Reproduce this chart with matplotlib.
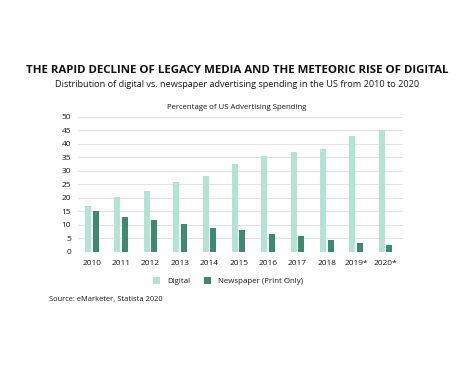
import numpy as np
import matplotlib.pyplot as plt

plt.rcParams['font.family'] = ['Open Sans', 'DejaVu Sans']

years = ['2010', '2011', '2012', '2013', '2014', '2015', '2016',
         '2017', '2018', '2019*', '2020*']
digital = [16.9, 20.4, 22.6, 25.7, 28.1, 32.5, 35.6, 36.9, 38.1, 43.0, 45.1]
newspaper = [15.1, 13.0, 11.7, 10.4, 8.9, 8.0, 6.8, 5.8, 4.3, 3.3, 2.5]

digital_color = '#b3e3d2'
newspaper_color = '#3f8a6f'

fig = plt.figure(figsize=(4.74, 3.66), dpi=100)
ax = fig.add_axes([0.1646, 0.3115, 0.6854, 0.3695])

x = np.arange(len(years))
w = 0.205
ax.bar(x - 0.128, digital, w, color=digital_color, label='Digital', zorder=3)
ax.bar(x + 0.128, newspaper, w, color=newspaper_color,
       label='Newspaper (Print Only)', zorder=3)

ax.set_xlim(-0.47, 10.59)
ax.set_ylim(0, 50)
ax.set_yticks(np.arange(0, 51, 5))
ax.set_xticks(x)
ax.set_xticklabels(years)
ax.grid(axis='y', color='#e3e3e3', linewidth=0.8, zorder=0)
for s in ax.spines.values():
    s.set_visible(False)
ax.tick_params(length=0, labelsize=6.0, colors='#1a1a1a')
ax.tick_params(axis='x', pad=6)
ax.tick_params(axis='y', pad=5)

fig.text(0.5, 0.808, 'THE RAPID DECLINE OF LEGACY MEDIA AND THE METEORIC RISE OF DIGITAL',
         ha='center', va='center', fontsize=8.25, fontweight='bold', color='#111111')
fig.text(0.5, 0.770, 'Distribution of digital vs. newspaper advertising spending in the US from 2010 to 2020',
         ha='center', va='center', fontsize=6.6, color='#1a1a1a')
fig.text(0.5, 0.707, 'Percentage of US Advertising Spending',
         ha='center', va='center', fontsize=5.6, color='#1a1a1a')

ax.legend(loc='center', bbox_to_anchor=(0.462, -0.215), ncol=2, frameon=False,
          fontsize=5.7, handlelength=0.9, handleheight=0.9, columnspacing=1.8,
          handletextpad=0.9, labelcolor='#1a1a1a')

fig.text(0.103, 0.183, 'Source: eMarketer, Statista 2020',
         ha='left', va='center', fontsize=5.4, color='#1a1a1a')

fig.savefig('out.png', dpi=100)
